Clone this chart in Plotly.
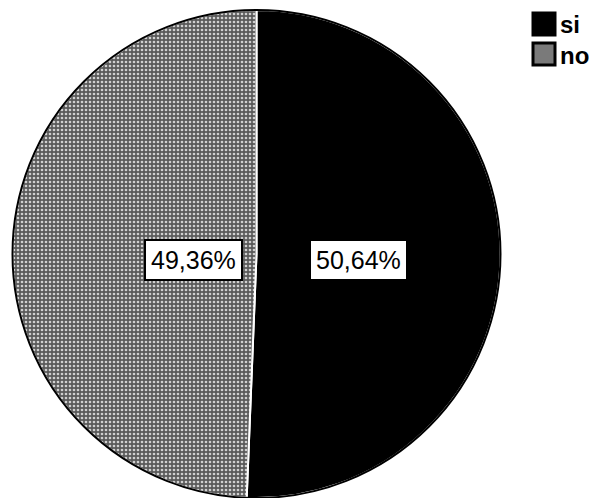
import plotly.graph_objects as go

labels = ["si", "no"]
values = [50.64, 49.36]
colors = ["#000000", "#7a7a7a"]

fig = go.Figure()
fig.add_trace(go.Pie(
    labels=labels,
    values=values,
    sort=False,
    direction="clockwise",
    rotation=0,
    textinfo="none",
    hoverinfo="label+percent",
    showlegend=False,
    marker=dict(
        colors=colors,
        line=dict(color="#ffffff", width=2),
        pattern=dict(shape=["", "."], bgcolor=["#000000", "#5a5a5a"],
                     fgcolor=["#000000", "#d0d0d0"], size=4, solidity=0.35),
    ),
    domain=dict(x=[10 / 589, 503 / 589], y=[0.0, 1 - 10 / 498]),
))

# outer black rim around the pie
fig.add_shape(type="circle", xref="paper", yref="paper",
              x0=(256.5 - 244) / 589, x1=(256.5 + 244) / 589,
              y0=0.0, y1=1 - 10 / 498,
              line=dict(color="#000000", width=2))

# percentage labels in white boxes
label_pos = {"si": (0.608, 0.478), "no": (0.2445, 0.478)}
for lab, val in zip(labels, values):
    x, y = label_pos[lab]
    fig.add_annotation(
        x=x, y=y, xref="paper", yref="paper",
        text=f"{val:.2f}%".replace(".", ","),
        showarrow=False,
        font=dict(family="Liberation Sans, Arial", size=25, color="#000000"),
        bgcolor="#ffffff",
        bordercolor="#000000",
        borderwidth=2,
        borderpad=5,
    )

# legend: bordered squares with labels, top right
legend_fill = ["#000000", "#7a7a7a"]
for i, (lab, fill) in enumerate(zip(labels, legend_fill)):
    top = 13 + i * 30
    fig.add_shape(type="rect", xref="paper", yref="paper",
                  x0=533 / 589, x1=555 / 589,
                  y0=1 - (top + 22) / 498, y1=1 - top / 498,
                  fillcolor=fill, line=dict(color="#000000", width=3))
    fig.add_annotation(
        x=558 / 589, y=1 - (top + 12) / 498, xref="paper", yref="paper",
        xanchor="left", yanchor="middle", showarrow=False,
        text=f"<b>{lab}</b>",
        font=dict(family="Liberation Sans, Arial", size=24, color="#000000"),
    )

fig.update_layout(
    width=589, height=498,
    margin=dict(l=0, r=0, t=0, b=0),
    paper_bgcolor="#ffffff",
    plot_bgcolor="#ffffff",
    showlegend=False,
)

fig.write_html("out.html")
